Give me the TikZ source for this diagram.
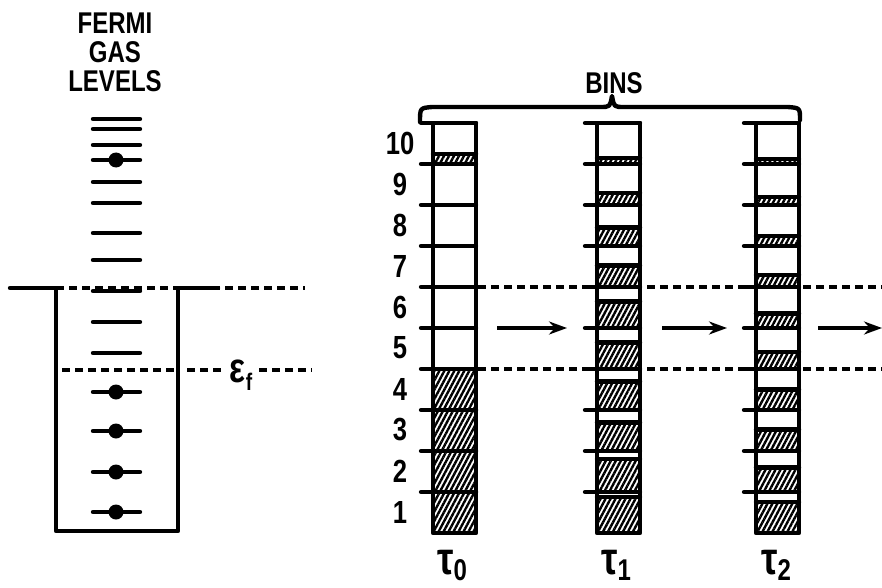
\documentclass[tikz,border=0pt]{standalone}
\usepackage{fontspec}
\setmainfont{Liberation Sans}
\newfontfamily\handfont[FakeStretch=0.8]{Liberation Sans}
\usetikzlibrary{patterns.meta,arrows.meta}
\tikzset{
  ink/.style={line width=4.4pt, line cap=round, line join=round},
  dashln/.style={line width=3.6pt, dash pattern=on 8pt off 5pt},
  hatch/.style={pattern={Lines[angle=62,distance=4.4pt,line width=2.4pt]}, pattern color=black},
  lbl/.style={font=\handfont\bfseries\fontsize{30}{29}\selectfont, inner sep=0pt, align=center},
  numlbl/.style={font=\handfont\bfseries\fontsize{32}{32}\selectfont, inner sep=0pt},
  taulbl/.style={font=\handfont\bfseries\fontsize{46}{46}\selectfont, inner sep=0pt},
  arr/.style={line width=4.2pt, -{Stealth[length=18pt,width=13pt]}},
  electron/.style={circle, fill=black, inner sep=0pt, minimum size=15pt}
}
\newcommand{\drawbins}[2]{%
  \foreach \i/\f in {#2}{
    \pgfmathsetmacro{\yb}{533-41*(\i-1)}
    \pgfmathsetmacro{\yh}{533-41*(\i-1)-41*\f}
    \fill[hatch] (#1,\yb) rectangle (#1+43,\yh);
    \draw[ink] (#1,\yh) -- (#1+43,\yh);
  }
  \foreach \k in {1,...,10}{
    \pgfmathsetmacro{\yk}{533-41*\k}
    \draw[ink] (#1-12,\yk) -- (#1+43,\yk);
  }
  \draw[ink] (#1,123) rectangle (#1+43,533);
}
\begin{document}
\begin{tikzpicture}[x=1pt,y=-1pt]
\useasboundingbox (0,0) rectangle (882,588);

% ---------- Fermi gas well ----------
\node[lbl] (title) at (115,52) {FERMI\\GAS\\LEVELS};
\draw[dashln] (56,288) -- (305,288);
\draw[ink] (10,288) -- (56,288) -- (56,531) -- (178,531) -- (178,288) -- (218,288);
\foreach \y in {119,129,145,160,182,203,233,260,291,322,353,392,431,472,512}
  \draw[ink] (93,\y) -- (140,\y);
\foreach \y/\n in {160/e1,392/e2,431/e3,472/e4,512/e5}
  \node[electron] (\n) at (116,\y) {};
\draw[dashln] (62,370) -- (175,370);
\node[inner sep=0pt] (ef) at (241,375) {\handfont\bfseries\fontsize{42}{42}\selectfont ε\raisebox{-8pt}{\fontsize{24}{24}\selectfont f}};
\coordinate (fe1) at (223,370);
\coordinate (fe2) at (259,370);
\draw[dashln] (187,370) -- (fe1);
\draw[dashln] (fe2) -- (312,370);

% ---------- bins ----------
\node[lbl] (bins) at (614,83) {BINS};
\draw[ink] (420,122) .. controls (420,108) .. (432,107) -- (600,107)
  .. controls (610,107) .. (612,96) .. controls (614,107) .. (624,107)
  -- (788,107) .. controls (800,108) .. (800,120);

\draw[dashln] (478,287) -- (882,287);
\draw[dashln] (478,369) -- (882,369);

\drawbins{433}{1/1,2/1,3/1,4/1,10/0.25}
\drawbins{597}{1/0.88,2/0.8,3/0.7,4/0.7,5/0.65,6/0.65,7/0.52,8/0.45,9/0.3,10/0.15}
\drawbins{756}{1/0.75,2/0.6,3/0.52,4/0.5,5/0.42,6/0.35,7/0.3,8/0.25,9/0.2,10/0.12}

\foreach \i in {1,...,10}
  \node[numlbl] (n\i) at (400,{553-41*\i}) {\i};

\node[taulbl] (t0) at (452,565) {τ\raisebox{-6pt}{\fontsize{30}{30}\selectfont 0}};
\node[taulbl] (t1) at (616,565) {τ\raisebox{-6pt}{\fontsize{30}{30}\selectfont 1}};
\node[taulbl] (t2) at (776,565) {τ\raisebox{-6pt}{\fontsize{30}{30}\selectfont 2}};

\coordinate (a0s) at (497,328); \coordinate (a0e) at (567,328);
\coordinate (a1s) at (662,328); \coordinate (a1e) at (727,328);
\coordinate (a2s) at (818,328); \coordinate (a2e) at (882,328);
\draw[arr] (a0s) -- (a0e);
\draw[arr] (a1s) -- (a1e);
\draw[arr] (a2s) -- (a2e);
\end{tikzpicture}
\end{document}
